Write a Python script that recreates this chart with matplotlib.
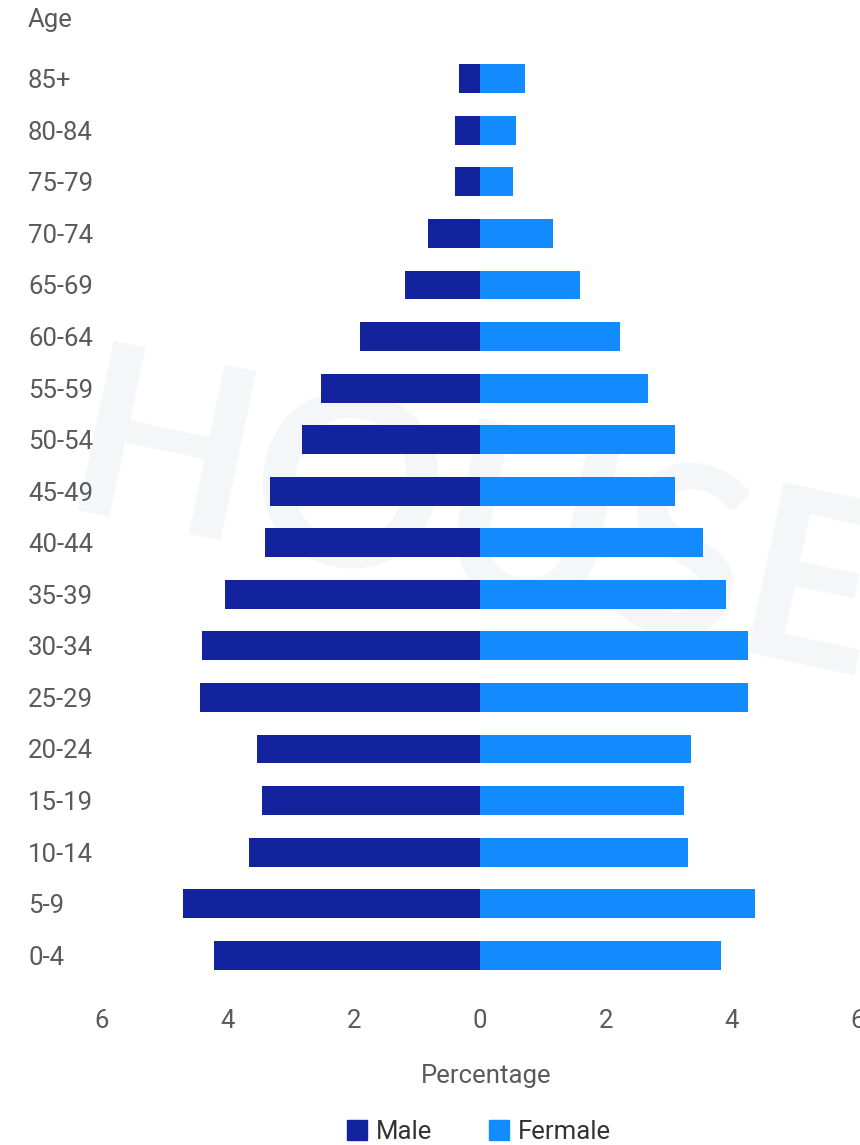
import matplotlib
matplotlib.use("Agg")
import matplotlib.pyplot as plt
from matplotlib.patches import Patch
import numpy as np

plt.rcParams["font.family"] = ["Roboto", "DejaVu Sans"]

# data (percent of population)
ages = ["0-4", "5-9", "10-14", "15-19", "20-24", "25-29", "30-34", "35-39", "40-44",
        "45-49", "50-54", "55-59", "60-64", "65-69", "70-74", "75-79", "80-84", "85+"]
male = [4.23, 4.71, 3.66, 3.46, 3.54, 4.44, 4.42, 4.05, 3.41,
        3.33, 2.82, 2.53, 1.90, 1.19, 0.82, 0.40, 0.39, 0.34]
female = [3.82, 4.36, 3.30, 3.24, 3.35, 4.25, 4.25, 3.90, 3.54,
          3.10, 3.10, 2.66, 2.22, 1.58, 1.16, 0.53, 0.57, 0.72]
xticks = [-6, -4, -2, 0, 2, 4, 6]

C_MALE, C_FEMALE, C_TEXT = "#13239d", "#128bff", "#5a5a5a"
W, H = 860, 1145
FS = 18.5

fig = plt.figure(figsize=(W / 100, H / 100), dpi=100)
ax = fig.add_axes([102 / W, 1 - 981 / H, 756 / W, (981 - 53) / H])

# faint watermark behind the bars
ax.text(58 / W, 1 - 510 / H, "HOUSE", transform=fig.transFigure, fontsize=172,
        fontweight="bold", family=["Lato", "DejaVu Sans"], color="#f5f6f8",
        rotation=-12, rotation_mode="anchor", ha="left", va="baseline",
        zorder=0, clip_on=False)

y = np.arange(len(ages))
ax.barh(y, -np.array(male), height=0.56, color=C_MALE, zorder=2)
ax.barh(y, female, height=0.56, color=C_FEMALE, zorder=2)

ax.set_xlim(-6, 6)
ax.set_ylim(-0.5, len(ages) - 0.5)
ax.set_xticks(xticks, [str(abs(t)) for t in xticks])
ax.set_yticks(y, ages)
for s in ax.spines.values():
    s.set_visible(False)
ax.tick_params(axis="both", length=0, labelsize=FS, labelcolor=C_TEXT)
ax.tick_params(axis="x", pad=20)
ax.tick_params(axis="y", pad=74 * 0.72)
for lab in ax.get_yticklabels():
    lab.set_ha("left")

fig.text(28 / W, 1 - 20 / H, "Age", fontsize=FS, color=C_TEXT, va="center", ha="left")
fig.text(486 / W, 1 - 1076 / H, "Percentage", fontsize=FS, color=C_TEXT, va="center", ha="center")

handles = [Patch(color=C_MALE, label="Male"), Patch(color=C_FEMALE, label="Fermale")]
fig.legend(handles=handles, loc="center", bbox_to_anchor=(479 / W, 1 - 1132 / H), ncol=2,
           frameon=False, fontsize=FS, handlelength=0.78, handleheight=0.78,
           handletextpad=0.35, columnspacing=2.2, labelcolor="#333333")

fig.savefig("out.png", dpi=100)
